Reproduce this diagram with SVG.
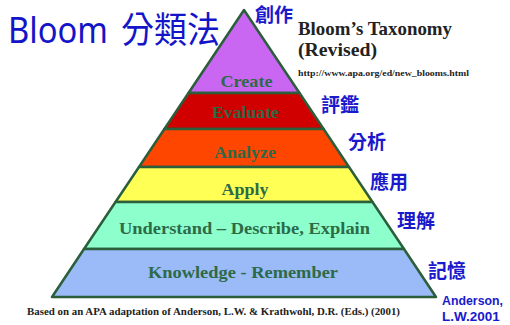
<svg xmlns="http://www.w3.org/2000/svg" width="510" height="325" viewBox="0 0 510 325">
<style>
.band{stroke:#2b5e3a;stroke-width:2.5;stroke-linejoin:round}
.lvl{font-family:"Liberation Serif","Times New Roman",serif;font-weight:bold;fill:#2d6a47;text-anchor:middle;font-size:17px}
.zh{font-family:"Noto Sans CJK TC","Noto Sans",sans-serif;font-weight:bold;fill:#1a1acc;font-size:19px}
.ser{font-family:"Liberation Serif","Times New Roman",serif;font-weight:bold;fill:#222}
</style>
<rect width="510" height="325" fill="#fff"/>
<g font-family="'Noto Sans','Noto Sans CJK TC',sans-serif" font-size="36" fill="#1414c8">
<text x="8" y="43" textLength="100" lengthAdjust="spacingAndGlyphs">Bloom</text>
<text x="121" y="43" textLength="99" lengthAdjust="spacingAndGlyphs">分類法</text>
</g>
<g id="create"><polygon class="band" fill="#c966f2" points="244,10 299.5,93 188.5,93"/><text class="lvl" x="246.5" y="87" textLength="52" lengthAdjust="spacingAndGlyphs">Create</text></g>
<g id="evaluate"><polygon class="band" fill="#d00000" points="188.5,93 299.5,93 323.6,129 164.4,129"/><text class="lvl" x="245.5" y="118" textLength="67" lengthAdjust="spacingAndGlyphs" fill="#3a6a36">Evaluate</text></g>
<g id="analyze"><polygon class="band" fill="#ff4600" points="164.4,129 323.6,129 349,167 139,167"/><text class="lvl" x="245" y="158" textLength="62" lengthAdjust="spacingAndGlyphs">Analyze</text></g>
<g id="apply"><polygon class="band" fill="#ffff55" points="139,167 349,167 372.5,202 115.5,202"/><text class="lvl" x="245" y="195" textLength="47" lengthAdjust="spacingAndGlyphs">Apply</text></g>
<g id="understand"><polygon class="band" fill="#8cffcc" points="115.5,202 372.5,202 404,249 84,249"/><text class="lvl" x="244.5" y="234" textLength="251" lengthAdjust="spacingAndGlyphs">Understand – Describe, Explain</text></g>
<g id="knowledge"><polygon class="band" fill="#9bbaf8" points="84,249 404,249 436,297 52,297"/><text class="lvl" x="243" y="278" textLength="190" lengthAdjust="spacingAndGlyphs">Knowledge - Remember</text></g>
<g id="labels">
<text class="zh" x="255" y="22" font-size="18">創作</text>
<text class="zh" x="321" y="112">評鑑</text>
<text class="zh" x="348" y="149">分析</text>
<text class="zh" x="370" y="189">應用</text>
<text class="zh" x="397" y="228">理解</text>
<text class="zh" x="428" y="278">記憶</text>
</g>
<g id="title">
<text class="ser" x="298" y="35" font-size="19" textLength="154" lengthAdjust="spacingAndGlyphs">Bloom’s Taxonomy</text>
<text class="ser" x="298" y="56" font-size="19" textLength="79" lengthAdjust="spacingAndGlyphs">(Revised)</text>
<text class="ser" x="298" y="76" font-size="8.5" textLength="171" lengthAdjust="spacingAndGlyphs">http://www.apa.org/ed/new_blooms.html</text>
</g>
<text class="ser" x="27" y="315" font-size="11" textLength="373" lengthAdjust="spacingAndGlyphs">Based on an APA adaptation of Anderson, L.W. &amp; Krathwohl, D.R. (Eds.) (2001)</text>
<g id="ref" font-family="'Liberation Sans',sans-serif" font-weight="bold" font-size="13.5" fill="#1a1acc">
<text x="442" y="305" textLength="61" lengthAdjust="spacingAndGlyphs">Anderson,</text>
<text x="442" y="321">L.W.2001</text>
</g>
</svg>
